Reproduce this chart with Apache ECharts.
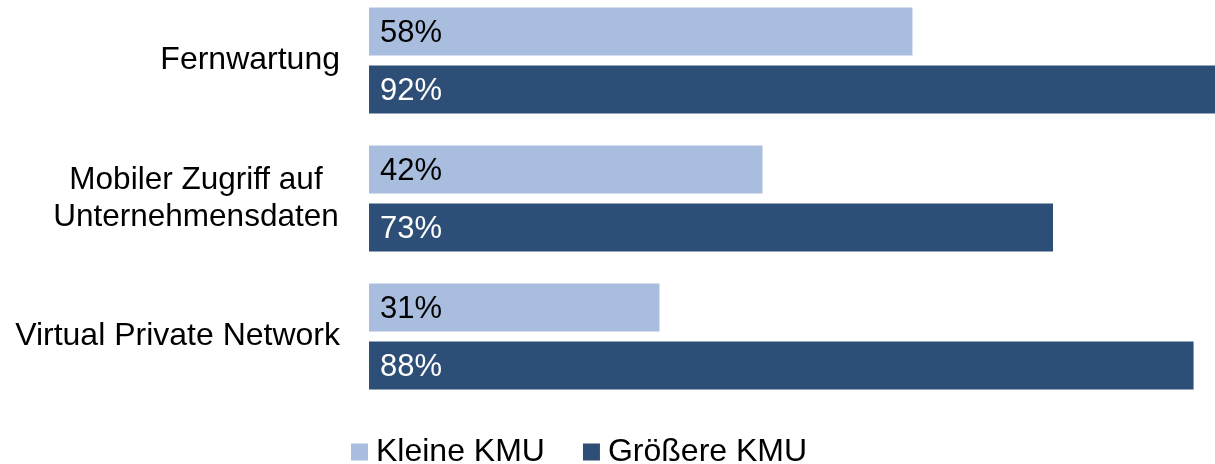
<!DOCTYPE html>
<html>
<head>
<meta charset="UTF-8">
<title>Fernzugriff KMU</title>
<script src="https://cdn.jsdelivr.net/npm/echarts@6/dist/echarts.min.js"></script>
<style>
  html,body{margin:0;padding:0;background:#fff;}
</style>
</head>
<body>
<div id="main" style="width:1215px;height:464px;"></div>
<script>
// Daten
var kategorien = ['Fernwartung', 'Mobiler Zugriff auf Unternehmensdaten', 'Virtual Private Network'];
var serienNamen = ['Kleine KMU', 'Größere KMU'];
var kleineKMU = [58, 42, 31];
var groessereKMU = [92, 73, 88];

var myChart = echarts.init(document.getElementById('main'));
var schrift = '"Liberation Sans", Arial, sans-serif';

myChart.setOption({
    animation: false,
    grid: {
        outerBoundsMode: 'none',
        left: 369,
        right: -91,   // Diagramm ist rechts abgeschnitten
        top: -8.5,
        bottom: 58.5
    },
    legend: {
        data: serienNamen,
        left: 346,
        top: 431,
        itemWidth: 17,
        itemHeight: 17,
        itemGap: 38,
        icon: 'rect',
        textStyle: { fontFamily: schrift, fontSize: 32, color: '#000', padding: [0, 0, 0, 3] }
    },
    xAxis: {
        type: 'value',
        min: 0,
        max: 100,
        show: false
    },
    yAxis: {
        type: 'category',
        inverse: true,
        data: kategorien,
        axisLine: { show: false },
        axisTick: { show: false },
        axisLabel: {
            margin: 29,
            fontFamily: schrift,
            fontSize: 32,
            color: '#000',
            lineHeight: 37,
            formatter: function (v) {
                if (v.indexOf('Mobiler') === 0) {
                    return '{c|Mobiler Zugriff auf}\n{c|Unternehmensdaten}';
                }
                return v;
            },
            rich: {
                c: { width: 288, align: 'center', fontFamily: schrift, fontSize: 31.5, color: '#000', lineHeight: 37 }
            }
        }
    },
    series: [{
        name: serienNamen[0],
        type: 'bar',
        data: kleineKMU,
        barWidth: 48,
        barGap: '21%',
        itemStyle: { color: '#A9BEDF' },
        label: {
            show: true,
            position: 'insideLeft',
            distance: 11,
            offset: [0, 2],
            formatter: '{c}%',
            fontFamily: schrift,
            fontSize: 31,
            color: '#000'
        }
    }, {
        name: serienNamen[1],
        type: 'bar',
        data: groessereKMU,
        barWidth: 48,
        itemStyle: { color: '#2D4E76' },
        label: {
            show: true,
            position: 'insideLeft',
            distance: 11,
            offset: [0, 2],
            formatter: '{c}%',
            fontFamily: schrift,
            fontSize: 31,
            color: '#fff'
        }
    }]
});
</script>
</body>
</html>
